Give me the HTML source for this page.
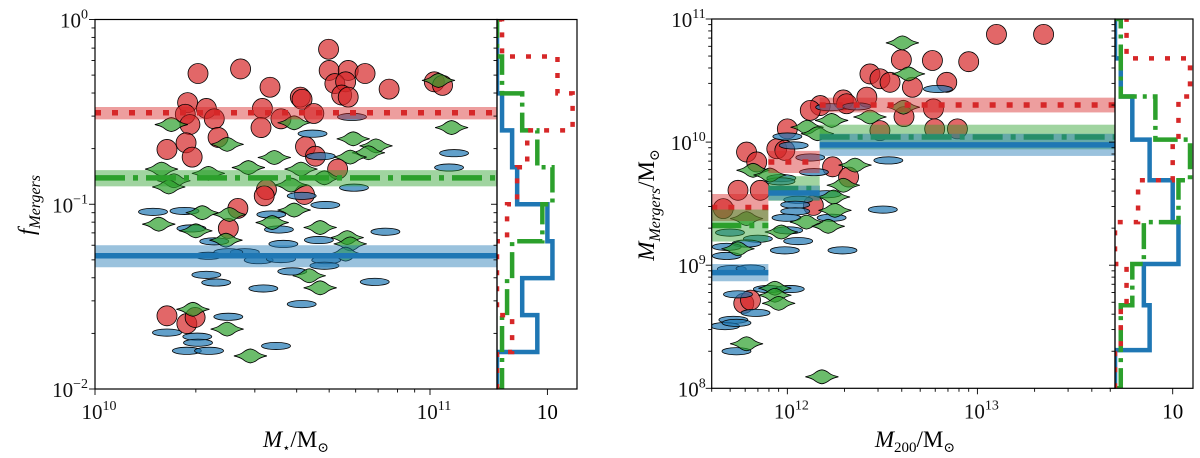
<!DOCTYPE html>
<html><head><meta charset="utf-8">
<style>
html,body{margin:0;padding:0;background:#fff;}
svg{display:block;font-family:"Liberation Serif","DejaVu Serif",serif;}
</style></head>
<body>
<svg id="fig" width="1200" height="458" viewBox="0 0 1200 458" xmlns="http://www.w3.org/2000/svg">
  <g id="left"></g>
  <g id="right"></g>
</svg>
<script>
// ---------- LEFT PANEL DATA ----------
const leftRedX = [4.98e10,2.03e10,2.72e10,3.33e10,5.0e10,5.7e10,6.4e10,5.2e10,5.6e10,5.45e10,5.7e10,4.1e10,4.15e10,7.55e10,1.03e11,1.09e11,1.89e10,2.15e10,1.86e10,1.92e10,2.27e10,3.16e10,3.59e10,3.13e10,4.5e10,2.33e10,1.64e10,1.87e10,1.95e10,4.25e10,4.55e10,5.3e10,3.25e10,3.2e10,4.22e10,2.67e10,2.5e10,1.64e10,1.88e10,1.99e10];
const leftRedY = [0.69,0.51,0.54,0.43,0.53,0.53,0.51,0.45,0.46,0.39,0.38,0.38,0.37,0.42,0.46,0.44,0.355,0.33,0.307,0.27,0.29,0.33,0.29,0.26,0.31,0.23,0.198,0.215,0.18,0.205,0.182,0.155,0.12,0.111,0.113,0.095,0.074,0.0249,0.0226,0.0244];
const leftBlueX = [5.85e10,4.46e10,1.18e11,1.14e11,4.72e10,5.93e10,4.14e10,4.87e10,1.49e10,1.85e10,3.36e10,1.94e10,3.54e10,7.36e10,2.27e10,3.65e10,4.66e10,2.8e10,2.18e10,3.08e10,3.59e10,4.9e10,4.84e10,3.88e10,2.15e10,2.3e10,6.84e10,3.18e10,4.14e10,2.5e10,1.64e10,2.02e10,2.03e10,1.88e10,2.19e10,3.47e10,2.5e10];
const leftBlueY = [0.297,0.241,0.189,0.158,0.182,0.123,0.111,0.099,0.091,0.092,0.088,0.074,0.073,0.071,0.063,0.061,0.064,0.055,0.0526,0.0498,0.0505,0.0498,0.0465,0.0433,0.0415,0.0377,0.038,0.035,0.0288,0.0246,0.0202,0.0192,0.0178,0.0161,0.0161,0.0171,0.055];
const leftGreenX = [1.69e10,3.93e10,1.16e11,1.06e11,5.9e10,6.9e10,2.48e10,3.43e10,6.55e10,5.78e10,1.58e10,2.18e10,2.87e10,4.12e10,4.84e10,1.72e10,1.66e10,3.85e10,2.09e10,2.52e10,3.93e10,1.55e10,2.0e10,3.38e10,4.7e10,5.66e10,2.46e10,5.78e10,5.6e10,4.36e10,4.7e10,1.96e10,2.48e10,2.91e10];
const leftGreenY = [0.27,0.276,0.26,0.468,0.226,0.207,0.211,0.179,0.19,0.18,0.155,0.147,0.158,0.155,0.139,0.134,0.124,0.127,0.090,0.088,0.093,0.078,0.0718,0.0796,0.0748,0.066,0.0639,0.061,0.0537,0.041,0.0353,0.027,0.0211,0.0151];
const leftMedians = [0.313,0.139,0.0526];      // red, green, blue
const leftMedLo   = [0.288,0.125,0.0456];
const leftMedHi   = [0.336,0.153,0.060];
const leftBinEdges = [-2.0,-1.8,-1.6,-1.4,-1.2,-1.0,-0.8,-0.6,-0.4,-0.2,0.0];
const leftHistBlue  = [0,8,5,11,10,4,3,1,0,0];
const leftHistGreen = [1,1,2,3,9,11,8,5,1,0];
const leftHistRed   = [0,3,0,0,2,4,6,15,12,1];

// ---------- RIGHT PANEL DATA ----------
const rightRedX = [3.98e12,5.8e12,2.72e12,3.07e12,3.47e12,4.55e12,6.9e12,2.62e12,1.97e12,2.05e12,1.49e12,1.32e12,4.11e12,5.87e12,3.07e12,5.96e12,7.85e12,1.0e12,8.8e11,9.7e11,6.1e11,6.9e11,1.73e12,2.1e12,5.5e11,7.2e11,1.37e12,4.6e11,5.9e11,6.4e11,1.26e13,2.23e13,9.0e12];
const rightRedY = [4.66e10,4.6e10,3.58e10,3.27e10,3.06e10,2.79e10,3.06e10,2.32e10,2.2e10,2.05e10,1.98e10,1.81e10,1.61e10,1.86e10,1.24e10,1.28e10,1.28e10,1.28e10,8.83e9,8.56e9,8.3e9,6.9e9,6.3e9,5.2e9,4.06e9,4.06e9,3.06e9,2.88e9,4.9e8,5.2e8,7.5e10,7.5e10,4.5e10];
const rightBlueX = [6.2e12,1.68e12,2.32e12,1.0e12,1.08e12,1.32e12,3.4e12,1.38e12,9.3e11,9.2e11,1.61e12,1.14e12,1.1e12,1.1e12,3.18e12,9.9e11,1.71e12,1.01e12,4.99e11,7.0e11,1.14e12,6.1e11,4.8e11,9.7e11,1.95e12,4.8e11,5.1e11,6.4e11,5.5e11,7.9e11,1.03e12,6.8e11,5.2e11,4.7e11,5.4e11,5.4e11];
const rightBlueY = [2.7e10,1.92e10,1.95e10,1.11e10,9.4e9,7.5e9,7.1e9,5.7e9,5.1e9,4.8e9,3.77e9,3.4e9,3.1e9,2.74e9,2.83e9,2.43e9,2.43e9,1.92e9,1.84e9,1.64e9,1.57e9,1.5e9,1.41e9,1.32e9,1.32e9,1.19e9,9.3e8,9.4e8,5.8e8,6.4e8,6.4e8,4.1e8,3.6e8,3.2e8,2.0e8,3.4e8];
const rightGreenX = [4.03e12,4.34e12,4.08e12,2.72e12,1.71e12,1.27e12,1.44e12,2.27e12,6.6e11,8.1e11,1.97e12,1.75e12,1.78e12,1.26e12,1.64e12,6.1e11,9.3e11,5.5e11,8.6e11,8.6e11,9.0e11,6.1e11,1.52e12];
const rightGreenY = [6.4e10,3.58e10,1.92e10,1.6e10,1.5e10,1.32e10,1.17e10,6.5e9,5.9e9,5.4e9,4.46e9,3.58e9,2.79e9,2.24e9,2.07e9,2.39e9,1.86e9,1.36e9,6.5e8,5.7e8,4.9e8,2.3e8,1.24e8];
const rightMedEdges = [11.6,11.9,12.17,13.724];
const rightMedRed   = [2.94e9,6.9e9,2.0e10];
const rightMedGreen = [2.1e9,4.2e9,1.1e10];
const rightMedBlue  = [8.7e8,3.86e9,9.5e9];
const rightBandRed   = [0.11,0.09,0.06];
const rightBandGreen = [0.13,0.10,0.10];
const rightBandBlue  = [0.07,0.06,0.09];
const rightBinEdges = [8.0,8.31,8.675,9.01,9.35,9.69,10.02,10.37,10.68,11.0];
const rightHistBlue  = [0,6,5,11,10,6,3,1,0];
const rightHistGreen = [1,1,3,5,11,13,7,1,1];
const rightHistRed   = [0,1,2,0,4,10,11,13,2];

// ---------- STYLE ----------
const RED='#d62728', BLUE='#1f77b4', GREEN='#2ca02c';
const NS='http://www.w3.org/2000/svg';
function el(parent, tag, attrs){
  const e=document.createElementNS(NS,tag);
  for(const k in attrs) e.setAttribute(k,attrs[k]);
  parent.appendChild(e); return e;
}
function makeLog(lo,hi,p0,p1){ return v => p0 + (Math.log10(v)-lo)/(hi-lo)*(p1-p0); }
function makeLin(lo,hi,p0,p1){ return v => p0 + (v-lo)/(hi-lo)*(p1-p0); }
const STAR='M -16.5 0 Q -10 -1.5 -7.5 -3.5 Q -4 -6.5 0 -7 Q 4 -6.5 7.5 -3.5 Q 10 -1.5 16.5 0 Q 10 1.5 7.5 3.5 Q 4 6.5 0 7 Q -4 6.5 -7.5 3.5 Q -10 1.5 -16.5 0 Z';

function scatter(g, xs, ys, X, Y, kind){
  for(let i=0;i<xs.length;i++){
    const cx=X(xs[i]), cy=Y(ys[i]);
    let m;
    if(kind==='red'){
      m=el(g,'circle',{cx:cx,cy:cy,r:10,fill:RED,'fill-opacity':0.7,stroke:'#000','stroke-width':0.8});
      
    } else if(kind==='blue'){
      m=el(g,'ellipse',{cx:cx,cy:cy,rx:14.5,ry:3.6,fill:BLUE,'fill-opacity':0.7,stroke:'#000','stroke-width':0.8});
      
    } else {
      m=el(g,'path',{d:STAR,transform:'translate('+cx+','+cy+')',fill:GREEN,'fill-opacity':0.7,stroke:'#000','stroke-width':0.8});
      
    }
    
  }
}
function hist(g, edges, counts, Y, H, color, dash, name){
  let d='M '+H(0)+' '+Y(edges[0]);
  for(let i=0;i<counts.length;i++){
    d+=' L '+H(counts[i])+' '+Y(edges[i])+' L '+H(counts[i])+' '+Y(edges[i+1]);
  }
  d+=' L '+H(0)+' '+Y(edges[edges.length-1]);
  const p=el(g,'path',{d:d,fill:'none',stroke:color,'stroke-width':4.5,'stroke-dasharray':dash,'stroke-linejoin':'miter'});
  
  
}
function tickLabel(g, x, y, exp, anchor, name){
  const t=el(g,'text',{x:x,y:y,'font-size':21,'text-anchor':anchor,fill:'#111'});
  t.textContent='10';
  const s=el(t,'tspan',{dy:-9,'font-size':14});
  s.textContent=exp;
  
  
}

// =========== LEFT PANEL ===========
(function(){
  const g=document.getElementById('left');
  const L=95,R=497,T=19.5,B=389,HR=577;
  const X=makeLog(10,11+(R-430)/335,L,R);
  const Y=makeLog(-2,0,B,T);
  const YL=v=>B+(v-(-2))/2*(T-B);
  const H=makeLin(0,10,R,R+50.4);
  const clip=el(g,'clipPath',{id:'clipL'}); el(clip,'rect',{x:L,y:T,width:R-L,height:B-T});
  const hclip=el(g,'clipPath',{id:'clipLH'}); el(hclip,'rect',{x:R,y:T,width:HR-R,height:B-T});
  const pg=el(g,'g',{'clip-path':'url(#clipL)'});
  
  
  scatter(pg,leftRedX,leftRedY,X,Y,'red');
  scatter(pg,leftBlueX,leftBlueY,X,Y,'blue');
  scatter(pg,leftGreenX,leftGreenY,X,Y,'green');
  const cols=[RED,GREEN,BLUE], dashes=['6 11','30 8 5 8',''], names=['red','green','blue'];
  for(let i=0;i<3;i++){
    const b=el(pg,'rect',{x:L,y:Y(leftMedHi[i]),width:R-L,height:Y(leftMedLo[i])-Y(leftMedHi[i]),fill:cols[i],'fill-opacity':0.45});
    
    
    const l=el(pg,'line',{x1:L,x2:R,y1:Y(leftMedians[i]),y2:Y(leftMedians[i]),stroke:cols[i],'stroke-width':5.5,'stroke-dasharray':dashes[i]});
    
    
  }
  const hg=el(g,'g',{'clip-path':'url(#clipLH)'});
  
  
  hist(hg,leftBinEdges,leftHistBlue,YL,H,BLUE,'','blue-histogram');
  hist(hg,leftBinEdges,leftHistGreen,YL,H,GREEN,'26 6 4 6','green-histogram');
  hist(hg,leftBinEdges,leftHistRed,YL,H,RED,'5 11','red-histogram');
  const f1=el(g,'rect',{x:L,y:T,width:R-L,height:B-T,fill:'none',stroke:'#000','stroke-width':1.2});
   
  const f2=el(g,'rect',{x:R,y:T,width:HR-R,height:B-T,fill:'none',stroke:'#000','stroke-width':1.2});
   
  for(let d=-2; d<0; d++){ for(let m=1;m<10;m++){ const yy=Y(m*Math.pow(10,d)); const len=m===1?6:3.5;
    el(g,'line',{x1:L-len,x2:L,y1:yy,y2:yy,stroke:'#000','stroke-width':0.9});
    el(g,'line',{x1:R-len,x2:R,y1:yy,y2:yy,stroke:'#000','stroke-width':0.9}); } }
  el(g,'line',{x1:L-6,x2:L,y1:T,y2:T,stroke:'#000','stroke-width':0.9});
  for(let d=10; d<=11; d++){ for(let m=1;m<10;m++){ const v=m*Math.pow(10,d); if(v>Math.pow(10,11.2)) break; const xx=X(v); const len=m===1?6:3.5;
    el(g,'line',{x1:xx,x2:xx,y1:B,y2:B+len,stroke:'#000','stroke-width':0.9}); } }
  el(g,'line',{x1:H(10),x2:H(10),y1:B,y2:B+6,stroke:'#000','stroke-width':0.9});
  tickLabel(g,L-7,T+8,'0','end','y-tick-1');
  tickLabel(g,L-7,Y(0.1)+8,'−1','end','y-tick-0.1');
  tickLabel(g,L-7,B+8,'−2','end','y-tick-0.01');
  tickLabel(g,L+4,B+30,'10','middle','x-tick-1e10');
  tickLabel(g,430+4,B+30,'11','middle','x-tick-1e11');
  const h10=el(g,'text',{x:H(10),y:B+30,'font-size':21,'text-anchor':'middle'}); h10.textContent='10';
   
  const xl=el(g,'text',{x:296,y:447,'font-size':23,'text-anchor':'middle'});
  xl.innerHTML='<tspan font-style="italic">M</tspan><tspan font-size="13" dy="5">⋆</tspan><tspan dy="-5">/M</tspan><tspan font-size="14" dy="5">⊙</tspan>';
   
  const yl=el(g,'text',{x:0,y:0,'font-size':23,'text-anchor':'middle',transform:'translate(34,205) rotate(-90)'});
  yl.innerHTML='<tspan font-style="italic">f</tspan><tspan font-style="italic" font-size="16" dy="6">Mergers</tspan>';
   
})();

// =========== RIGHT PANEL ===========
(function(){
  const g=document.getElementById('right');
  const L=711.7,R=1115,T=19,B=388.3,HR=1193;
  const xlo=11.602, xhi=13.724;
  const X=makeLog(xlo,xhi,L,R);
  const XL=v=>L+(v-xlo)/(xhi-xlo)*(R-L);
  const Y=makeLog(8,11,B,T);
  const YL=v=>B+(v-8)/3*(T-B);
  const H=makeLin(0,10,R,R+57.7);
  const clip=el(g,'clipPath',{id:'clipR'}); el(clip,'rect',{x:L,y:T,width:R-L,height:B-T});
  const hclip=el(g,'clipPath',{id:'clipRH'}); el(hclip,'rect',{x:R,y:T,width:HR-R,height:B-T});
  const pg=el(g,'g',{'clip-path':'url(#clipR)'});
  
  
  scatter(pg,rightRedX,rightRedY,X,Y,'red');
  scatter(pg,rightBlueX,rightBlueY,X,Y,'blue');
  scatter(pg,rightGreenX,rightGreenY,X,Y,'green');
  const sets=[[rightMedRed,rightBandRed,RED,'6 11','red'],[rightMedGreen,rightBandGreen,GREEN,'30 8 5 8','green'],[rightMedBlue,rightBandBlue,BLUE,'','blue']];
  for(const s of sets){
    for(let i=0;i<3;i++){
      const x1=XL(rightMedEdges[i]), x2=XL(rightMedEdges[i+1]);
      const lv=Math.log10(s[0][i]);
      const yh=YL(lv+s[1][i]), ylo=YL(lv-s[1][i]);
      const b=el(pg,'rect',{x:x1,y:yh,width:x2-x1,height:ylo-yh,fill:s[2],'fill-opacity':0.45});
      
      
      const l=el(pg,'line',{x1:x1,x2:x2,y1:YL(lv),y2:YL(lv),stroke:s[2],'stroke-width':5.5,'stroke-dasharray':s[3]});
      
      
    }
  }
  const hg=el(g,'g',{'clip-path':'url(#clipRH)'});
  
  
  hist(hg,rightBinEdges,rightHistBlue,YL,H,BLUE,'','blue-histogram');
  hist(hg,rightBinEdges,rightHistGreen,YL,H,GREEN,'26 6 4 6','green-histogram');
  hist(hg,rightBinEdges,rightHistRed,YL,H,RED,'5 11','red-histogram');
  const f1=el(g,'rect',{x:L,y:T,width:R-L,height:B-T,fill:'none',stroke:'#000','stroke-width':1.2});
   
  const f2=el(g,'rect',{x:R,y:T,width:HR-R,height:B-T,fill:'none',stroke:'#000','stroke-width':1.2});
   
  for(let d=8; d<11; d++){ for(let m=1;m<10;m++){ const yy=Y(m*Math.pow(10,d)); const len=m===1?6:3.5;
    el(g,'line',{x1:L-len,x2:L,y1:yy,y2:yy,stroke:'#000','stroke-width':0.9});
    el(g,'line',{x1:R-len,x2:R,y1:yy,y2:yy,stroke:'#000','stroke-width':0.9}); } }
  el(g,'line',{x1:L-6,x2:L,y1:T,y2:T,stroke:'#000','stroke-width':0.9});
  for(let d=11; d<=13; d++){ for(let m=1;m<10;m++){ const lv=Math.log10(m*Math.pow(10,d)); if(lv<xlo||lv>xhi) continue; const xx=XL(lv); const len=m===1?6:3.5;
    el(g,'line',{x1:xx,x2:xx,y1:B,y2:B+len,stroke:'#000','stroke-width':0.9}); } }
  el(g,'line',{x1:H(10),x2:H(10),y1:B,y2:B+6,stroke:'#000','stroke-width':0.9});
  tickLabel(g,L-6,T+8,'11','end','y-tick-1e11');
  tickLabel(g,L-6,Y(1e10)+8,'10','end','y-tick-1e10');
  tickLabel(g,L-6,Y(1e9)+8,'9','end','y-tick-1e9');
  tickLabel(g,L-6,B+8,'8','end','y-tick-1e8');
  tickLabel(g,XL(12)+4,B+30,'12','middle','x-tick-1e12');
  tickLabel(g,XL(13)+4,B+30,'13','middle','x-tick-1e13');
  const h10=el(g,'text',{x:H(10),y:B+30,'font-size':21,'text-anchor':'middle'}); h10.textContent='10';
   
  const xl=el(g,'text',{x:915,y:447,'font-size':23,'text-anchor':'middle'});
  xl.innerHTML='<tspan font-style="italic">M</tspan><tspan font-size="15" dy="5">200</tspan><tspan dy="-5">/M</tspan><tspan font-size="14" dy="5">⊙</tspan>';
   
  const yl=el(g,'text',{x:0,y:0,'font-size':23,'text-anchor':'middle',transform:'translate(654,205) rotate(-90)'});
  yl.innerHTML='<tspan font-style="italic">M</tspan><tspan font-style="italic" font-size="16" dy="6">Mergers</tspan><tspan dy="-6">/M</tspan><tspan font-size="14" dy="5">⊙</tspan>';
   
})();
</script>
</body></html>
